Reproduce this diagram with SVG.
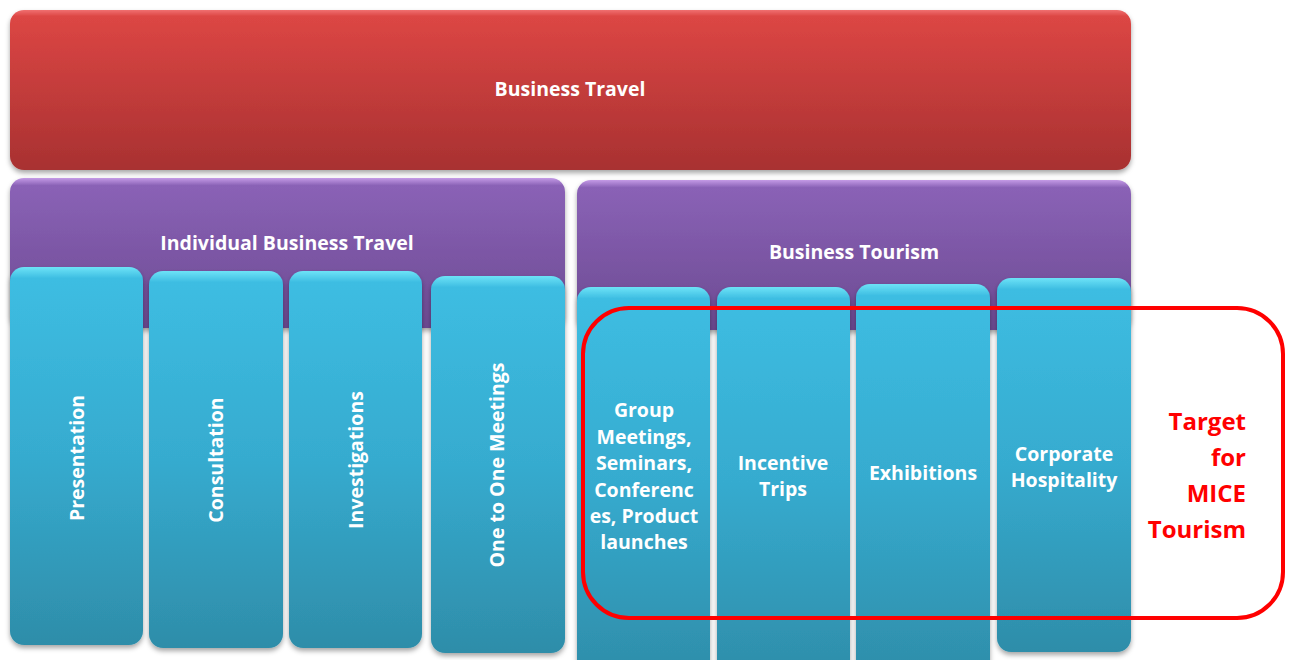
<svg xmlns="http://www.w3.org/2000/svg" width="1291" height="660" viewBox="0 0 1291 660">
<defs>
<linearGradient id="gRed" x1="0" y1="0" x2="0" y2="1">
<stop offset="0" stop-color="#f07070"/>
<stop offset="0.04" stop-color="#dc4644"/>
<stop offset="1" stop-color="#a83131"/>
</linearGradient>
<linearGradient id="gPur" x1="0" y1="0" x2="0" y2="1">
<stop offset="0" stop-color="#c49ae6"/>
<stop offset="0.05" stop-color="#8a62b6"/>
<stop offset="1" stop-color="#6c4a92"/>
</linearGradient>
<linearGradient id="gCyan" x1="0" y1="0" x2="0" y2="1">
<stop offset="0" stop-color="#6de3f7"/>
<stop offset="0.03" stop-color="#3dbde2"/>
<stop offset="0.5" stop-color="#36abcf"/>
<stop offset="1" stop-color="#2e8da9"/>
</linearGradient>
<filter id="sh" x="-10%" y="-10%" width="120%" height="120%">
<feDropShadow dx="0" dy="3" stdDeviation="2.5" flood-color="#000" flood-opacity="0.35"/>
</filter>
</defs>
<style>
.t{font-family:"Open Sans","Liberation Sans",sans-serif;font-weight:bold;fill:#fff;text-anchor:middle;font-size:19.5px}
.red{font-family:"Open Sans","Liberation Sans",sans-serif;font-weight:bold;fill:#ff0000;font-size:24px;text-anchor:end}
</style>
<g id="business-travel">
<rect x="10" y="10" width="1121" height="160" rx="14" fill="url(#gRed)" filter="url(#sh)"/>
<text class="t" x="570" y="96">Business Travel</text>
</g>
<g id="individual-business-travel">
<rect x="10" y="178" width="555" height="150" rx="14" fill="url(#gPur)" filter="url(#sh)"/>
<text class="t" x="287" y="250">Individual Business Travel</text>
</g>
<g id="business-tourism">
<rect x="577" y="180" width="554" height="150" rx="14" fill="url(#gPur)" filter="url(#sh)"/>
<text class="t" x="854" y="259">Business Tourism</text>
</g>
<g id="presentation">
<rect x="10" y="267" width="133" height="378" rx="14" fill="url(#gCyan)" filter="url(#sh)"/>
<text class="t" transform="translate(84 458) rotate(-90)">Presentation</text>
</g>
<g id="consultation">
<rect x="149" y="271" width="134" height="377" rx="14" fill="url(#gCyan)" filter="url(#sh)"/>
<text class="t" transform="translate(223 460) rotate(-90)">Consultation</text>
</g>
<g id="investigations">
<rect x="289" y="271" width="133" height="377" rx="14" fill="url(#gCyan)" filter="url(#sh)"/>
<text class="t" transform="translate(363 460) rotate(-90)">Investigations</text>
</g>
<g id="one-to-one">
<rect x="431" y="276" width="134" height="377" rx="14" fill="url(#gCyan)" filter="url(#sh)"/>
<text class="t" transform="translate(504 465) rotate(-90)">One to One Meetings</text>
</g>
<g id="group-meetings">
<rect x="577" y="287" width="133" height="390" rx="14" fill="url(#gCyan)" filter="url(#sh)"/>
<text class="t" x="644" y="417">Group</text>
<text class="t" x="644" y="444">Meetings,</text>
<text class="t" x="644" y="470">Seminars,</text>
<text class="t" x="644" y="497">Conferenc</text>
<text class="t" x="644" y="523">es, Product</text>
<text class="t" x="644" y="549">launches</text>
</g>
<g id="incentive-trips">
<rect x="717" y="287" width="133" height="390" rx="14" fill="url(#gCyan)" filter="url(#sh)"/>
<text class="t" x="783" y="470">Incentive</text>
<text class="t" x="783" y="496">Trips</text>
</g>
<g id="exhibitions">
<rect x="856" y="284" width="134" height="393" rx="14" fill="url(#gCyan)" filter="url(#sh)"/>
<text class="t" x="923" y="480">Exhibitions</text>
</g>
<g id="corporate-hospitality">
<rect x="997" y="278" width="134" height="374" rx="14" fill="url(#gCyan)" filter="url(#sh)"/>
<text class="t" x="1064" y="461">Corporate</text>
<text class="t" x="1064" y="487">Hospitality</text>
</g>
<g id="connectors"></g>
<g id="mice-target">
<rect x="583" y="308" width="700" height="310" rx="46" fill="none" stroke="#ff0000" stroke-width="4"/>
<text class="red" x="1246" y="430">Target</text>
<text class="red" x="1246" y="466">for</text>
<text class="red" x="1246" y="502">MICE</text>
<text class="red" x="1246" y="538">Tourism</text>
</g>
</svg>
